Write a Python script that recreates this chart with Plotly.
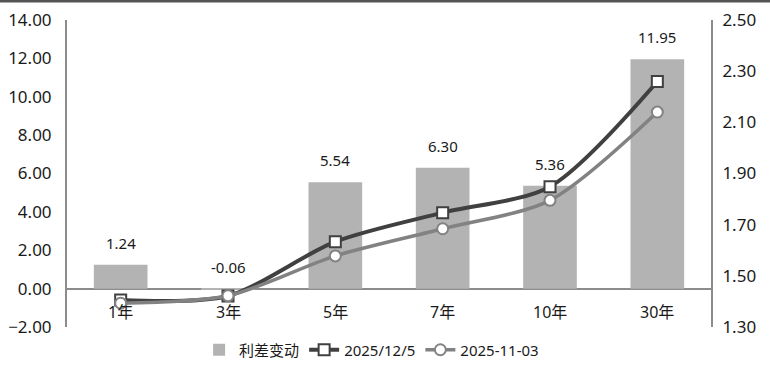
import plotly.graph_objects as go

categories = ["1年", "3年", "5年", "7年", "10年", "30年"]
spread_change = [1.24, -0.06, 5.54, 6.30, 5.36, 11.95]
yield_20251205 = [1.4054, 1.4214, 1.6334, 1.7470, 1.8486, 2.2595]
yield_20251103 = [1.3930, 1.4220, 1.5780, 1.6840, 1.7950, 2.1400]
left_ticks = [-2, 0, 2, 4, 6, 8, 10, 12, 14]
right_ticks = [1.30, 1.50, 1.70, 1.90, 2.10, 2.30, 2.50]

FONT = "Noto Sans, Noto Sans CJK SC"
AX = "#8c8c8c"

fig = go.Figure()
fig.add_trace(go.Bar(
    x=categories, y=spread_change, name="利差变动",
    marker=dict(color="#b3b3b3", line=dict(width=0)),
    yaxis="y",
))
fig.add_trace(go.Scatter(
    x=categories, y=yield_20251205, name="2025/12/5", yaxis="y2",
    mode="lines+markers",
    line=dict(color="#404040", width=4, shape="spline", smoothing=0.8),
    marker=dict(symbol="square", size=11, color="white",
                line=dict(color="#404040", width=2)),
))
fig.add_trace(go.Scatter(
    x=categories, y=yield_20251103, name="2025-11-03", yaxis="y2",
    mode="lines+markers",
    line=dict(color="#828282", width=3.5, shape="spline", smoothing=0.8),
    marker=dict(symbol="circle", size=11, color="white",
                line=dict(color="#828282", width=2)),
))

annotations = []
for c, v in zip(categories, spread_change):
    annotations.append(dict(
        x=c, y=max(v, 0), xref="x", yref="y", text=f"{v:.2f}",
        showarrow=False, yshift=22, yanchor="middle",
        font=dict(family=FONT, size=15, color="#1a1a1a"),
    ))
    annotations.append(dict(
        x=c, y=0, xref="x", yref="y", text=c,
        showarrow=False, yshift=-23, yanchor="middle",
        font=dict(family=FONT, size=16, color="#1a1a1a"),
    ))

fig.update_layout(
    width=770, height=366,
    margin=dict(l=67, r=59, t=20, b=39, autoexpand=False),
    paper_bgcolor="white", plot_bgcolor="white",
    font=dict(family=FONT, color="#1a1a1a"),
    bargap=0.5,
    showlegend=True,
    legend=dict(orientation="h", x=0.473, xanchor="center", y=-0.075,
                yanchor="middle", font=dict(family=FONT, size=15),
                itemwidth=30, tracegroupgap=0, bgcolor="rgba(0,0,0,0)"),
    xaxis=dict(showticklabels=False, showgrid=False, showline=False,
               zeroline=False, ticks="", automargin=False),
    yaxis=dict(range=[-2, 14], tickvals=left_ticks, tickformat=".2f",
               showgrid=False, showline=True, linecolor=AX, linewidth=2,
               zeroline=True, zerolinecolor=AX, zerolinewidth=2,
               ticks="", ticklabelstandoff=10, automargin=False,
               tickfont=dict(family=FONT, size=17, color="#1a1a1a")),
    yaxis2=dict(range=[1.3, 2.5], tickvals=right_ticks, tickformat=".2f",
                overlaying="y", side="right", showgrid=False,
                showline=True, linecolor=AX, linewidth=2, zeroline=False,
                ticks="", ticklabelstandoff=6, automargin=False,
                tickfont=dict(family=FONT, size=17, color="#1a1a1a")),
    annotations=annotations,
    shapes=[dict(type="line", xref="paper", yref="paper", x0=-0.2, x1=1.2,
                 y0=1.062, y1=1.062, line=dict(color="#555555", width=3))],
)

fig.write_html("out.html",
               config={"displayModeBar": False},
               post_script="document.body.style.margin='0px';")
